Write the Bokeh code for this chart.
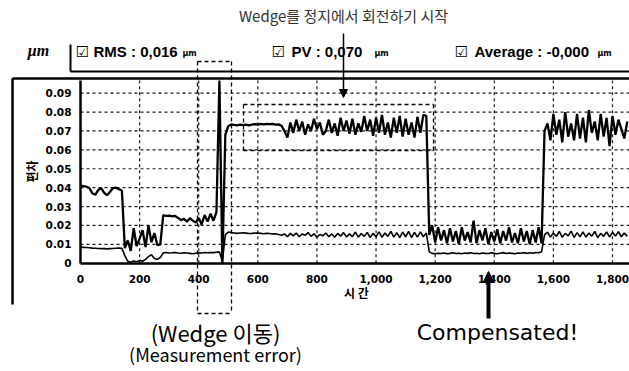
import math
from bokeh.plotting import figure
from bokeh.models import (Range1d, FixedTicker, Label, Arrow, NormalHead, ColumnDataSource,
                          LinearAxis)
from bokeh.embed import file_html
from bokeh.resources import INLINE

# ---------------- data ----------------
time_step = 10  # recorder sample interval, first sample at 0

# PV (upper, thick trace)
pv_0_140 = [0.0410, 0.0408, 0.0405, 0.0398, 0.0370, 0.0362, 0.0388, 0.0398, 0.0372, 0.0360,
            0.0378, 0.0398, 0.0400, 0.0392, 0.0385]
pv_150_270 = [0.0080, 0.0120, 0.0065, 0.0185, 0.0090, 0.0130, 0.0175, 0.0085, 0.0200, 0.0110,
              0.0160, 0.0095, 0.0100]
pv_280_460 = [0.0255, 0.0250, 0.0252, 0.0248, 0.0250, 0.0240, 0.0228, 0.0235, 0.0220, 0.0238,
              0.0225, 0.0215, 0.0240, 0.0205, 0.0255, 0.0220, 0.0262, 0.0225, 0.0270]
pv_470_490 = [0.0967, 0.0000, 0.0680]
pv_500_690 = [0.0725, 0.0735, 0.0732, 0.0730, 0.0733, 0.0731, 0.0734, 0.0730, 0.0733, 0.0736,
              0.0734, 0.0737, 0.0735, 0.0738, 0.0736, 0.0737, 0.0734, 0.0735, 0.0728, 0.0700]
pv_700_1170 = [0.0665, 0.0745, 0.0690, 0.0760, 0.0700, 0.0750, 0.0680, 0.0735, 0.0700, 0.0765,
               0.0710, 0.0745, 0.0680, 0.0700, 0.0760, 0.0690, 0.0740, 0.0675, 0.0770, 0.0700,
               0.0755, 0.0685, 0.0765, 0.0680, 0.0740, 0.0695, 0.0780, 0.0700, 0.0760, 0.0675,
               0.0770, 0.0690, 0.0785, 0.0680, 0.0745, 0.0665, 0.0770, 0.0690, 0.0780, 0.0670,
               0.0765, 0.0680, 0.0745, 0.0665, 0.0775, 0.0690, 0.0785, 0.0780]
pv_1180_1560 = [0.0150, 0.0200, 0.0110, 0.0190, 0.0120, 0.0175, 0.0105, 0.0185, 0.0115, 0.0170,
                0.0100, 0.0190, 0.0120, 0.0165, 0.0110, 0.0225, 0.0105, 0.0175, 0.0120, 0.0185,
                0.0100, 0.0165, 0.0115, 0.0180, 0.0105, 0.0170, 0.0120, 0.0190, 0.0110, 0.0160,
                0.0105, 0.0185, 0.0115, 0.0170, 0.0100, 0.0175, 0.0110, 0.0190, 0.0105]
pv_1570_1850 = [0.0700, 0.0740, 0.0650, 0.0790, 0.0680, 0.0760, 0.0640, 0.0800, 0.0670, 0.0740,
                0.0650, 0.0790, 0.0660, 0.0770, 0.0640, 0.0810, 0.0690, 0.0750, 0.0650, 0.0790,
                0.0670, 0.0770, 0.0620, 0.0780, 0.0680, 0.0760, 0.0710, 0.0660, 0.0750]

# RMS (lower, thin trace)
rms_0_140 = [0.0085, 0.0084, 0.0083, 0.0082, 0.0080, 0.0079, 0.0078, 0.0077, 0.0077, 0.0076,
             0.0077, 0.0078, 0.0079, 0.0080, 0.0079]
rms_150_270 = [0.0040, 0.0010, 0.0005, 0.0012, 0.0008, 0.0015, 0.0010, 0.0020, 0.0035, 0.0045,
               0.0025, 0.0020, 0.0030]
rms_280_460 = [0.0055, 0.0056, 0.0054, 0.0055, 0.0057, 0.0054, 0.0053, 0.0055, 0.0054, 0.0052,
               0.0050, 0.0053, 0.0055, 0.0054, 0.0056, 0.0055, 0.0057, 0.0056, 0.0058]
rms_470_490 = [0.0060, 0.0010, 0.0150]
rms_500_690 = [0.0165, 0.0162, 0.0160, 0.0158, 0.0160, 0.0161, 0.0159, 0.0157, 0.0158, 0.0160,
               0.0159, 0.0158, 0.0156, 0.0158, 0.0157, 0.0155, 0.0156, 0.0152, 0.0148, 0.0155]
rms_700_1170 = [0.0140, 0.0158, 0.0145, 0.0160, 0.0140, 0.0155, 0.0148, 0.0162, 0.0142, 0.0156,
                0.0138, 0.0152, 0.0145, 0.0160, 0.0140, 0.0155, 0.0137, 0.0158, 0.0143, 0.0162,
                0.0139, 0.0155, 0.0141, 0.0165, 0.0138, 0.0157, 0.0142, 0.0163, 0.0136, 0.0158,
                0.0140, 0.0166, 0.0137, 0.0160, 0.0142, 0.0168, 0.0138, 0.0162, 0.0135, 0.0165,
                0.0140, 0.0168, 0.0136, 0.0163, 0.0138, 0.0166, 0.0140, 0.0160]
rms_1180_1560 = [0.0060, 0.0052, 0.0050, 0.0053, 0.0051, 0.0054, 0.0050, 0.0052, 0.0055, 0.0051,
                 0.0053, 0.0050, 0.0054, 0.0052, 0.0055, 0.0051, 0.0053, 0.0050, 0.0054, 0.0052,
                 0.0051, 0.0055, 0.0052, 0.0050, 0.0053, 0.0056, 0.0051, 0.0054, 0.0052, 0.0050,
                 0.0054, 0.0053, 0.0056, 0.0052, 0.0055, 0.0053, 0.0057, 0.0055, 0.0060]
rms_1570_1850 = [0.0150, 0.0165, 0.0138, 0.0160, 0.0142, 0.0168, 0.0137, 0.0158, 0.0145, 0.0170,
                 0.0136, 0.0162, 0.0140, 0.0166, 0.0138, 0.0160, 0.0143, 0.0168, 0.0135, 0.0158,
                 0.0142, 0.0165, 0.0139, 0.0162, 0.0144, 0.0167, 0.0140, 0.0160, 0.0142]

pv = (pv_0_140 + pv_150_270 + pv_280_460 + pv_470_490 + pv_500_690 + pv_700_1170
      + pv_1180_1560 + pv_1570_1850)
rms = (rms_0_140 + rms_150_270 + rms_280_460 + rms_470_490 + rms_500_690 + rms_700_1170
       + rms_1180_1560 + rms_1570_1850)
n = min(len(pv), len(rms))
pv, rms = pv[:n], rms[:n]
time = [i * time_step for i in range(n)]

x_ticks = [0, 200, 400, 600, 800, 1000, 1200, 1400, 1600, 1800]
x_tick_labels = ["0", "200", "400", "600", "800", "1,000", "1,200", "1,400", "1,600", "1,800"]
y_ticks = [0, 0.01, 0.02, 0.03, 0.04, 0.05, 0.06, 0.07, 0.08, 0.09]
y_tick_labels = ["0", "0.01", "0.02", "0.03", "0.04", "0.05", "0.06", "0.07", "0.08", "0.09"]
x_max, y_max = 1857.5, 0.0967   # visible data extent of the plot area

title_text = "Wedge를 정지에서 회전하기 시작"
unit_text = "\u03bcm"
legend_names = ["RMS : 0,016", "PV : 0,070", "Average : -0,000"]
legend_unit = "\u00b5m"
x_label = "시 간"
y_label = "편차"
note_move = "(Wedge 이동)"
note_error = "(Measurement error)"
note_comp = "Compensated!"

# ---------------- figure ----------------
# The frame fills the whole canvas; the plot area sits at page x 80..629, y 80..262.7.
W, H = 629, 371
PX_PER_X = 532 / 1800.0
PX_PER_Y = 1889.0
x_range = Range1d(-80 / PX_PER_X, (W - 80) / PX_PER_X)
y_range = Range1d((262.7 - H) / PX_PER_Y, 262.7 / PX_PER_Y)

p = figure(width=W, height=H, output_backend="svg", toolbar_location=None,
           x_range=x_range, y_range=y_range, x_axis_location=None, y_axis_location=None,
           min_border_left=0, min_border_right=0, min_border_top=0, min_border_bottom=0)
p.outline_line_color = None
p.background_fill_color = "white"
p.border_fill_color = "white"
p.xgrid.visible = False
p.ygrid.visible = False

# page-pixel ranges for decorations
p.extra_x_ranges = {"px": Range1d(0, W)}
p.extra_y_ranges = {"py": Range1d(H, 0)}

# grid (dashed)
gx = x_ticks[1:]
p.segment(x0=gx, y0=[0] * len(gx), x1=gx, y1=[y_max] * len(gx),
          line_color="black", line_dash="3 3", line_width=1.2, line_alpha=0.9)
gy = y_ticks[1:]
p.segment(x0=[0] * len(gy), y0=gy, x1=[x_max] * len(gy), y1=gy,
          line_color="black", line_dash="3 3", line_width=1.2, line_alpha=0.9)

# axes at the plot-area edges
xaxis = LinearAxis(fixed_location=0, bounds=(0, x_max), ticker=FixedTicker(ticks=x_ticks))
xaxis.major_label_overrides = dict(zip(x_ticks, x_tick_labels))
xaxis.major_label_standoff = 12
yaxis = LinearAxis(fixed_location=0, bounds=(0, y_max), ticker=FixedTicker(ticks=y_ticks))
yaxis.major_label_overrides = dict(zip(y_ticks, y_tick_labels))
yaxis.major_label_standoff = 9
for ax in (xaxis, yaxis):
    ax.major_tick_in = 0
    ax.major_tick_out = 0
    ax.minor_tick_in = 0
    ax.minor_tick_out = 0
    ax.axis_line_width = 2.5
    ax.axis_line_color = "black"
    ax.major_label_text_font = "DejaVu Sans"
    ax.major_label_text_font_style = "bold"
    ax.major_label_text_font_size = "10.5px"
    ax.major_label_text_color = "black"
p.add_layout(xaxis, "below")
p.add_layout(yaxis, "left")

src = ColumnDataSource(dict(time=time, pv=pv, rms=rms))
p.line("time", "rms", source=src, line_color="black", line_width=1.6)
p.line("time", "pv", source=src, line_color="black", line_width=2.3)


def lab(x, y, text, size, font="DejaVu Sans", style="normal", align="center", color="black", angle=0.0):
    p.add_layout(Label(x=x, y=y, x_range_name="px", y_range_name="py", text=text,
                       text_font=font, text_font_size=f"{size}px", text_font_style=style,
                       text_align=align, text_baseline="middle", text_color=color, angle=angle))


def seg(x0, y0, x1, y1, width=1.5, dash="solid", head=None):
    p.add_layout(Arrow(x_start=x0, y_start=y0, x_end=x1, y_end=y1, end=head,
                       x_range_name="px", y_range_name="py",
                       line_color="black", line_width=width, line_dash=dash))


# title and arrow
lab(343, 15, title_text, 15, font="Noto Sans CJK KR", color="#333333")
seg(343, 33, 343, 97, width=1.5, head=NormalHead(size=8, fill_color="black", line_color="black"))

# header row
lab(38, 50, unit_text, 16, font="Liberation Serif", style="bold italic")
seg(70, 44, 70, 71, width=2)
seg(70, 71, W, 71, width=2)
seg(12, 78, W, 78, width=2.5)
seg(12, 78, 12, 304, width=2.5)
for cx, tx, ux, name in ((82, 93, 189, legend_names[0]),
                         (278, 291, 381, legend_names[1]),
                         (461, 474, 604, legend_names[2])):
    lab(cx, 51, "\u2611", 15, font="DejaVu Sans")
    lab(tx, 51, name, 15, font="Liberation Sans", style="bold", align="left")
    lab(ux, 53, legend_unit, 8, font="DejaVu Sans", style="bold")

# axis titles
lab(356, 292, x_label, 12, font="Noto Sans CJK KR", style="bold")
lab(31, 171, y_label, 12, font="Noto Sans CJK KR", style="bold", angle=math.pi / 2)

# dashed boxes
for (x0, y0, x1, y1) in ((197, 61, 231, 313), (243, 104, 433, 150)):
    seg(x0, y0, x1, y0, width=1.3, dash="4 3")
    seg(x0, y1, x1, y1, width=1.3, dash="4 3")
    seg(x0, y0, x0, y1, width=1.3, dash="4 3")
    seg(x1, y0, x1, y1, width=1.3, dash="4 3")

# bottom notes
lab(215, 331, note_move, 22, font="Noto Sans CJK KR")
lab(215, 353, note_error, 18, font="Noto Sans CJK KR")
lab(497, 332, note_comp, 22, font="DejaVu Sans")
seg(488, 318, 488, 271, width=4, head=NormalHead(size=11, fill_color="black", line_color="black"))

open("out.html", "w").write(file_html(p, INLINE))
